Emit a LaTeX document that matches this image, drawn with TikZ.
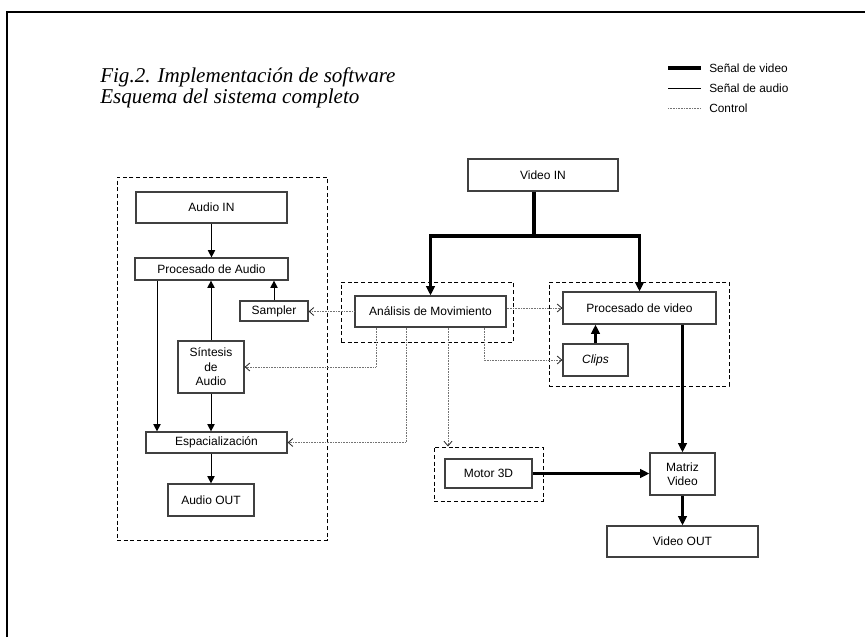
\documentclass[tikz,border=0pt]{standalone}
\usepackage{fontspec}
\setmainfont{Liberation Sans}
\newfontfamily\titlefont{Liberation Serif}
\usetikzlibrary{arrows.meta,fit}
\newcommand\mkblock[6]{\node[box, minimum width={(#4-#2)*0.75pt}, minimum height={(#5-#3)*0.75pt}] (#1) at ({(#2+#4)/2},{(#3+#5)/2}) {#6};}
\begin{document}
\begin{tikzpicture}[x=0.75pt,y=-0.75pt,
  box/.style={draw=black!75, line width=0.9pt, fill=white, inner sep=0pt,
    font=\fontsize{9}{10.9}\selectfont, align=center},
  group/.style={draw=black, dash pattern=on 3pt off 2pt, line width=0.75pt, inner sep=0pt},
  videoline/.style={line width=2.8pt},
  video/.style={videoline, -{Triangle[length=7pt,width=6.5pt]}},
  audioline/.style={line width=0.75pt},
  audio/.style={audioline, -{Triangle[length=5.5pt,width=5.5pt]}},
  controlline/.style={draw=black!55, line width=0.6pt, dash pattern=on 0.6pt off 0.6pt},
  control/.style={controlline, -{Straight Barb[length=3.5pt,width=6pt,line width=0.6pt,color=black!85]}},
  legendtext/.style={anchor=west, font=\fontsize{8.9}{10}\selectfont, inner sep=0pt},
  titletext/.style={anchor=base west, inner sep=0pt,
    font=\titlefont\itshape\fontsize{15.8}{16}\selectfont}
]
\useasboundingbox (0,0) rectangle (865,637);
% frame
\coordinate (fbl) at (7,637);
\coordinate (ftl) at (7,12);
\coordinate (ftr) at (865,12);
\draw[line width=1.4pt] (fbl) -- (ftl) -- (ftr);

% title
\node[titletext] (title1) at (100,82) {Fig.2. Implementación de software};
\node[titletext] (title2) at (100,103) {Esquema del sistema completo};

% legend
\coordinate (lv1) at (668,68); \coordinate (lv2) at (701,68);
\coordinate (la1) at (668,88); \coordinate (la2) at (701,88);
\coordinate (lc1) at (668,108); \coordinate (lc2) at (701,108);
\draw[videoline] (lv1) -- (lv2);
\draw[audioline] (la1) -- (la2);
\draw[controlline] (lc1) -- (lc2);
\node[legendtext] (lvt) at (709,68) {Señal de video};
\node[legendtext] (lat) at (709,88) {Señal de audio};
\node[legendtext] (lct) at (709,108) {Control};

% dashed groups
\node[group, fit={(117,177) (327,540)}] (audiogroup) {};
\node[group, fit={(341,282) (513,342)}] (angroup) {};
\node[group, fit={(549,282) (729,386)}] (pvgroup) {};
\node[group, fit={(434,447) (543,501)}] (motorgroup) {};

% audio boxes
\mkblock{audioin}{136}{192}{287}{223}{Audio IN}
\mkblock{procaudio}{135}{258}{288}{280}{Procesado de Audio}
\mkblock{sampler}{240}{301}{308}{321}{Sampler}
\mkblock{sintesis}{178}{341}{244}{393}{Síntesis\\de\\Audio}
\mkblock{espacial}{146}{432}{287}{453}{Espacialización}
\mkblock{audioout}{168}{484}{254}{516}{Audio OUT}

% video boxes
\mkblock{videoin}{468}{159}{618}{191}{Video IN}
\mkblock{analisis}{355}{296}{506}{327}{Análisis de Movimiento}
\mkblock{procvideo}{563}{292}{716}{324}{Procesado de video}
\mkblock{clips}{563}{344}{628}{376}{\itshape Clips}
\mkblock{motor}{445}{459}{532}{488}{Motor 3D}
\mkblock{matriz}{650}{453}{715}{495}{Matriz\\Video}
\mkblock{videoout}{607}{526}{758}{557}{Video OUT}

% video connectors
\coordinate (split) at (534,236);
\draw[videoline] (videoin.south -| split) -- (split);
\draw[video] (split) -| (analisis.north);
\draw[video] (split) -| (procvideo.north);
\draw[video] (clips.north) -- (clips.north |- procvideo.south);
\draw[video] (procvideo.south -| matriz.north) -- (matriz.north);
\draw[video] (motor.east) -- (motor.east -| matriz.west);
\draw[video] (matriz.south) -- (videoout.north);

% audio connectors
\draw[audio] (audioin.south) -- (procaudio.north);
\draw[audio] (procaudio.south -| 157,0) -- (espacial.north -| 157,0);
\draw[audio] (sintesis.north) -- (sintesis.north |- procaudio.south);
\draw[audio] (sintesis.south) -- (sintesis.south |- espacial.north);
\draw[audio] (sampler.north) -- (sampler.north |- procaudio.south);
\draw[audio] (espacial.south -| audioout.north) -- (audioout.north);

% control connectors
\draw[control] (analisis.east |- procvideo.west) -- (procvideo.west);
\draw[control] (analisis.west) -- (analisis.west -| sampler.east);
\draw[control] (analisis.south -| 376,0) |- (sintesis.east);
\draw[control] (analisis.south -| 406,0) |- (espacial.east);
\draw[control] (analisis.south -| 448,0) -- (motorgroup.north -| 448,0);
\draw[control] (analisis.south -| 484,0) |- (clips.west);
\end{tikzpicture}
\end{document}
